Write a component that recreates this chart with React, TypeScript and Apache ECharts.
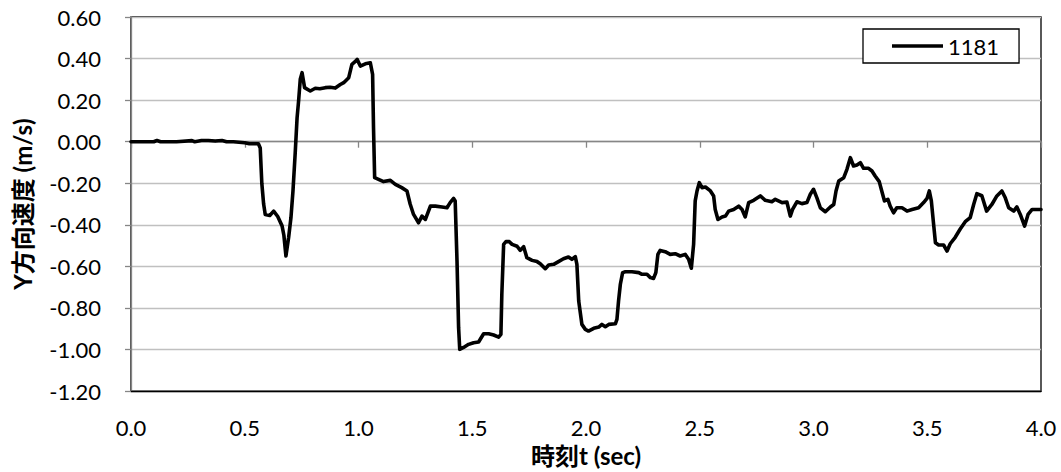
import React, { useEffect, useRef } from "react";
import * as echarts from "echarts";

const TIME: number[] = [
  0, 0.05, 0.1, 0.114, 0.13, 0.2, 0.268, 0.28, 0.31, 0.34,
  0.37, 0.4, 0.42, 0.45, 0.5, 0.52, 0.56, 0.568, 0.575, 0.583,
  0.59, 0.61, 0.627, 0.645, 0.664, 0.672, 0.681, 0.693, 0.703, 0.712,
  0.722, 0.73, 0.737, 0.744, 0.752, 0.763, 0.788, 0.81, 0.83, 0.854,
  0.875, 0.898, 0.92, 0.935, 0.957, 0.971, 0.985, 0.994, 1.008, 1.03,
  1.052, 1.062, 1.066, 1.071, 1.088, 1.11, 1.14, 1.162, 1.19, 1.213,
  1.227, 1.242, 1.264, 1.279, 1.294, 1.316, 1.338, 1.367, 1.389, 1.403,
  1.418, 1.425, 1.433, 1.44, 1.445, 1.462, 1.484, 1.506, 1.528, 1.55,
  1.572, 1.594, 1.616, 1.626, 1.63, 1.638, 1.648, 1.663, 1.675, 1.697,
  1.711, 1.726, 1.74, 1.763, 1.785, 1.799, 1.821, 1.836, 1.858, 1.879,
  1.901, 1.923, 1.938, 1.953, 1.96, 1.968, 1.982, 1.997, 2.011, 2.034,
  2.056, 2.07, 2.085, 2.1, 2.129, 2.136, 2.143, 2.151, 2.161, 2.173,
  2.202, 2.232, 2.246, 2.268, 2.283, 2.297, 2.307, 2.316, 2.326, 2.348,
  2.37, 2.392, 2.414, 2.436, 2.451, 2.463, 2.473, 2.48, 2.488, 2.498,
  2.51, 2.525, 2.547, 2.561, 2.568, 2.58, 2.598, 2.613, 2.627, 2.649,
  2.671, 2.686, 2.7, 2.715, 2.737, 2.766, 2.788, 2.817, 2.832, 2.862,
  2.883, 2.898, 2.908, 2.927, 2.949, 2.971, 2.986, 3.0, 3.015, 3.03,
  3.052, 3.074, 3.089, 3.099, 3.111, 3.133, 3.147, 3.162, 3.176, 3.191,
  3.206, 3.22, 3.242, 3.257, 3.271, 3.289, 3.3, 3.312, 3.327, 3.337,
  3.352, 3.366, 3.389, 3.411, 3.433, 3.462, 3.484, 3.499, 3.509, 3.518,
  3.528, 3.536, 3.55, 3.572, 3.587, 3.601, 3.623, 3.645, 3.667, 3.689,
  3.704, 3.718, 3.74, 3.761, 3.784, 3.806, 3.828, 3.843, 3.858, 3.88,
  3.894, 3.909, 3.928, 3.943, 3.961, 4.0,
];

const VELOCITY_1181: number[] = [
  0, 0, 0, 0.006, 0, 0, 0.005, 0, 0.006, 0.006,
  0.003, 0.006, 0, 0, -0.005, -0.01, -0.01, -0.03, -0.2, -0.3,
  -0.35, -0.355, -0.334, -0.36, -0.405, -0.45, -0.55, -0.46, -0.366, -0.237,
  -0.05, 0.115, 0.2, 0.3, 0.332, 0.26, 0.244, 0.257, 0.255, 0.26,
  0.262, 0.258, 0.275, 0.284, 0.308, 0.372, 0.385, 0.396, 0.364, 0.375,
  0.38, 0.324, 0.067, -0.173, -0.181, -0.192, -0.186, -0.205, -0.221, -0.237,
  -0.3, -0.35, -0.39, -0.358, -0.374, -0.31, -0.31, -0.314, -0.318, -0.293,
  -0.273, -0.285, -0.574, -0.895, -0.999, -0.99, -0.975, -0.967, -0.964, -0.924,
  -0.924, -0.93, -0.94, -0.927, -0.735, -0.494, -0.481, -0.481, -0.494, -0.503,
  -0.523, -0.505, -0.558, -0.571, -0.577, -0.587, -0.611, -0.593, -0.59, -0.577,
  -0.563, -0.555, -0.566, -0.553, -0.59, -0.767, -0.879, -0.903, -0.911, -0.898,
  -0.892, -0.879, -0.89, -0.879, -0.876, -0.855, -0.767, -0.686, -0.63, -0.626,
  -0.626, -0.63, -0.638, -0.638, -0.654, -0.658, -0.63, -0.542, -0.523, -0.529,
  -0.542, -0.539, -0.55, -0.542, -0.566, -0.609, -0.494, -0.285, -0.237, -0.197,
  -0.221, -0.218, -0.237, -0.261, -0.326, -0.374, -0.362, -0.358, -0.334, -0.326,
  -0.31, -0.326, -0.362, -0.293, -0.282, -0.261, -0.282, -0.289, -0.277, -0.293,
  -0.29, -0.358, -0.326, -0.289, -0.298, -0.293, -0.253, -0.229, -0.27, -0.318,
  -0.337, -0.314, -0.302, -0.237, -0.189, -0.173, -0.133, -0.077, -0.117, -0.112,
  -0.101, -0.128, -0.128, -0.141, -0.165, -0.192, -0.237, -0.285, -0.277, -0.31,
  -0.342, -0.318, -0.318, -0.334, -0.326, -0.318, -0.293, -0.273, -0.237, -0.285,
  -0.398, -0.486, -0.497, -0.497, -0.526, -0.491, -0.46, -0.42, -0.385, -0.365,
  -0.302, -0.25, -0.26, -0.334, -0.302, -0.261, -0.237, -0.27, -0.318, -0.334,
  -0.314, -0.35, -0.406, -0.35, -0.326, -0.326,
];

const SERIES_NAME = "1181";
const X_TITLE = "時刻t (sec)";
const Y_TITLE = "Y方向速度 (m/s)";

const FONT = "Lato, 'Noto Sans CJK JP', sans-serif";

export default function App() {
  const ref = useRef<HTMLDivElement>(null);

  useEffect(() => {
    if (!ref.current) return;
    const chart = echarts.init(ref.current, undefined, { renderer: "svg" });
    const data = TIME.map((t, i) => [t, VELOCITY_1181[i]]);

    chart.setOption({
      animation: false,
      backgroundColor: "#ffffff",
      textStyle: { fontFamily: FONT, color: "#000" },
      grid: {
        left: 131,
        right: 20,
        top: 17,
        bottom: 80.5,
        show: true,
        borderColor: "#000",
        borderWidth: 1.3,
        backgroundColor: "transparent",
      },
      legend: {
        show: true,
        data: [{ name: SERIES_NAME, icon: "rect" }],
        left: 863,
        top: 29,
        orient: "horizontal",
        backgroundColor: "#fff",
        borderColor: "#000",
        borderWidth: 1.3,
        borderRadius: 0,
        padding: [5, 20, 5, 29],
        itemWidth: 51,
        itemHeight: 3.5,
        itemStyle: { color: "#000", borderWidth: 0 },
        textStyle: { fontFamily: FONT, fontSize: 22, color: "#000", lineHeight: 24 },
      },
      xAxis: [
        {
          type: "value",
          position: "bottom",
          min: 0,
          max: 4,
          interval: 0.5,
          name: X_TITLE,
          nameLocation: "middle",
          nameGap: 49,
          nameTextStyle: { fontFamily: FONT, fontSize: 24, fontWeight: "bold", color: "#000" },
          axisLine: { show: true, onZero: false, lineStyle: { color: "#000", width: 1.3 } },
          axisTick: { show: false },
          splitLine: { show: false },
          axisLabel: {
            fontFamily: FONT,
            fontSize: 22,
            color: "#000",
            margin: 25,
            formatter: (v: number) => v.toFixed(1),
          },
        },
        {
          type: "value",
          position: "top",
          min: 0,
          max: 4,
          interval: 0.5,
          axisLine: { show: true, onZero: true, lineStyle: { color: "#868686", width: 1.3 } },
          axisTick: { show: true, inside: true, length: 6, lineStyle: { color: "#868686", width: 1.3 } },
          axisLabel: { show: false },
          splitLine: { show: false },
        },
      ],
      yAxis: {
        type: "value",
        min: -1.2,
        max: 0.6,
        interval: 0.2,
        name: Y_TITLE,
        nameLocation: "middle",
        nameGap: 97,
        nameRotate: 90,
        nameTextStyle: { fontFamily: FONT, fontSize: 24, fontWeight: "bold", color: "#000" },
        axisLine: { show: true, onZero: false, lineStyle: { color: "#868686", width: 1.3 } },
        axisTick: { show: true, inside: false, length: 6, lineStyle: { color: "#868686", width: 1.3 } },
        splitLine: { show: true, lineStyle: { color: "#c0c0c0", width: 1.3 } },
        axisLabel: {
          fontFamily: FONT,
          fontSize: 22,
          color: "#000",
          margin: 30,
          formatter: (v: number) => v.toFixed(2),
        },
      },
      series: [
        {
          name: SERIES_NAME,
          type: "line",
          xAxisIndex: 0,
          yAxisIndex: 0,
          data,
          symbol: "none",
          showSymbol: false,
          lineStyle: { color: "#000", width: 3.6, join: "round", cap: "round" },
          itemStyle: { color: "#000" },
          clip: true,
        },
      ],
    });

    return () => chart.dispose();
  }, []);

  return (
    <div
      ref={ref}
      style={{ position: "fixed", left: 0, top: 0, width: 1061, height: 472, background: "#fff" }}
    />
  );
}
